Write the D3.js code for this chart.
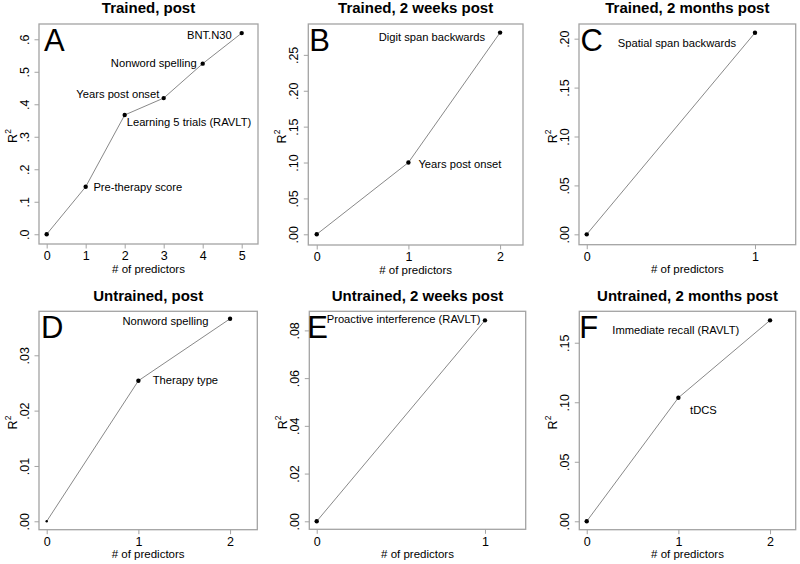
<!DOCTYPE html>
<html>
<head>
<meta charset="utf-8">
<script src="https://cdn.jsdelivr.net/npm/d3@7"></script>
<style>
  body { margin: 0; background: #fff; }
  svg { display: block; font-family: "Liberation Sans", Arial, sans-serif; }
</style>
</head>
<body>
<svg id="chart" width="800" height="564"></svg>
<script>
// ---------- DATA ----------
const panelTitles = ["Trained, post", "Trained, 2 weeks post", "Trained, 2 months post",
                     "Untrained, post", "Untrained, 2 weeks post", "Untrained, 2 months post"];
const panelLetters = ["A", "B", "C", "D", "E", "F"];

const valuesA = [0, 0.146, 0.367, 0.419, 0.525, 0.619];
const valuesB = [0, 0.100, 0.281];
const valuesC = [0, 0.206];
const valuesD = [0, 0.0254, 0.0366];
const valuesE = [0, 0.0842];
const valuesF = [0, 0.1038, 0.1688];

const labelsA = ["", "Pre-therapy score", "Learning 5 trials (RAVLT)", "Years post onset", "Nonword spelling", "BNT.N30"];
const labelsB = ["", "Years post onset", "Digit span backwards"];
const labelsC = ["", "Spatial span backwards"];
const labelsD = ["", "Therapy type", "Nonword spelling"];
const labelsE = ["", "Proactive interference (RAVLT)"];
const labelsF = ["", "tDCS", "Immediate recall (RAVLT)"];

const yTicksA = [0, 0.1, 0.2, 0.3, 0.4, 0.5, 0.6];
const yTicksB = [0, 0.05, 0.10, 0.15, 0.20, 0.25];
const yTicksC = [0, 0.05, 0.10, 0.15, 0.20];
const yTicksD = [0, 0.01, 0.02, 0.03];
const yTicksE = [0, 0.02, 0.04, 0.06, 0.08];
const yTicksF = [0, 0.05, 0.10, 0.15];
const yTickDecimals = [1, 2, 2, 2, 2, 2];

const xAxisTitle = "# of predictors";

// ---------- LAYOUT (positions / styles) ----------
const layout = [
  { frame: [39, 24, 258, 244],      xDom: [-0.197, 5.418], yDom: [-0.030, 0.647],  letterDx: 5,
    ann: [null, ["start", 7.7, 0], ["start", 2, 6.7], ["end", -4.4, -3.7], ["end", -6, -1], ["end", -10, 2]] },
  { frame: [308.3, 24, 523, 245],   xDom: [-0.092, 2.25],  yDom: [-0.0149, 0.293], letterDx: 1,
    ann: [null, ["start", 10, 1.7], ["end", -15, 4]] },
  { frame: [579, 24, 795.7, 244.7], xDom: [-0.046, 1.242], yDom: [-0.0106, 0.215], letterDx: 1.5,
    ann: [null, ["end", -19, 10]] },
  { frame: [39, 311.3, 257.3, 529.7], xDom: [-0.084, 2.297], yDom: [-0.00152, 0.03795], letterDx: 2,
    ann: [null, ["start", 14.4, -1], ["end", -21.7, 2.3]], smallFirst: true },
  { frame: [309.3, 311.3, 525.7, 529.3], xDom: [-0.044, 1.242], yDom: [-0.00335, 0.088], letterDx: -2,
    ann: [null, ["end", -4.5, -1]] },
  { frame: [579.3, 311.3, 795.7, 529.7], xDom: [-0.081, 2.28], yDom: [-0.00706, 0.1764], letterDx: 0,
    ann: [null, ["start", 11.7, 12], ["end", -30.7, 10]] }
];

const allValues = [valuesA, valuesB, valuesC, valuesD, valuesE, valuesF];
const allLabels = [labelsA, labelsB, labelsC, labelsD, labelsE, labelsF];
const allYTicks = [yTicksA, yTicksB, yTicksC, yTicksD, yTicksE, yTicksF];

const frameColor = "#a3a3a3";
const lineColor = "#7a7a7a";

const svg = d3.select("#chart");

function fmt(dec) {
  const f = d3.format("." + dec + "f");
  return v => f(v).replace(/^0\./, ".");
}

layout.forEach((L, i) => {
  const [fx0, fy0, fx1, fy1] = L.frame;
  const vals = allValues[i];
  const labs = allLabels[i];
  const x = d3.scaleLinear().domain(L.xDom).range([fx0, fx1]);
  const y = d3.scaleLinear().domain(L.yDom).range([fy1, fy0]);
  const g = svg.append("g");

  // title
  g.append("text")
    .attr("x", (fx0 + fx1) / 2).attr("y", fy0 - 10.6)
    .attr("text-anchor", "middle")
    .attr("font-size", 15).attr("font-weight", "bold")
    .text(panelTitles[i]);

  // x axis
  const xAxis = d3.axisBottom(x)
    .tickValues(d3.range(0, vals.length))
    .tickFormat(d3.format("d"))
    .tickSize(4.5).tickPadding(3);
  const gx = g.append("g").attr("transform", `translate(0,${fy1})`).call(xAxis);
  gx.select(".domain").remove();
  gx.selectAll(".tick line").attr("stroke", frameColor);
  gx.selectAll(".tick text").attr("font-size", 12.5).attr("font-family", "Liberation Sans, Arial, sans-serif")
    .attr("fill", "#000");

  // y axis
  const yAxis = d3.axisLeft(y)
    .tickValues(allYTicks[i])
    .tickFormat(fmt(yTickDecimals[i]))
    .tickSize(4.5).tickPadding(0);
  const gy = g.append("g").attr("transform", `translate(${fx0},0)`).call(yAxis);
  gy.select(".domain").remove();
  gy.selectAll(".tick line").attr("stroke", frameColor);
  gy.selectAll(".tick text")
    .attr("font-size", 12.5).attr("font-family", "Liberation Sans, Arial, sans-serif")
    .attr("fill", "#000")
    .attr("x", null).attr("dy", null)
    .attr("text-anchor", "middle")
    .attr("transform", "translate(-10,0) rotate(-90)");

  // axis titles
  g.append("text")
    .attr("x", (fx0 + fx1) / 2).attr("y", fy1 + 28.5)
    .attr("text-anchor", "middle").attr("font-size", 11.5)
    .text(xAxisTitle);
  const rt = g.append("text")
    .attr("transform", `translate(${fx0 - 22.5},${(fy0 + fy1) / 2 + 2}) rotate(-90)`)
    .attr("text-anchor", "middle").attr("font-size", 12.5);
  rt.append("tspan").text("R");
  rt.append("tspan").attr("font-size", 8.5).attr("dy", -5.5).text("2");

  // frame
  g.append("rect")
    .attr("x", fx0).attr("y", fy0).attr("width", fx1 - fx0).attr("height", fy1 - fy0)
    .attr("fill", "none").attr("stroke", frameColor).attr("stroke-width", 1.3);

  // line
  const line = d3.line().x((d, k) => x(k)).y(d => y(d));
  g.append("path").datum(vals)
    .attr("d", line).attr("fill", "none")
    .attr("stroke", lineColor).attr("stroke-width", 0.9);

  // points
  g.selectAll("circle.pt").data(vals).enter().append("circle")
    .attr("class", "pt")
    .attr("cx", (d, k) => x(k)).attr("cy", d => y(d))
    .attr("r", (d, k) => (L.smallFirst && k === 0) ? 1.2 : 2.2)
    .attr("fill", "#000");

  // annotations
  labs.forEach((t, k) => {
    if (!t) return;
    const a = L.ann[k];
    g.append("text")
      .attr("x", x(k) + a[1]).attr("y", y(vals[k]) + a[2])
      .attr("dy", "0.36em")
      .attr("text-anchor", a[0])
      .attr("font-size", 11.2)
      .text(t);
  });

  // panel letter
  g.append("text")
    .attr("x", fx0 + L.letterDx).attr("y", fy0 + 26.7)
    .attr("font-size", 31)
    .text(panelLetters[i]);
});
</script>
</body>
</html>
